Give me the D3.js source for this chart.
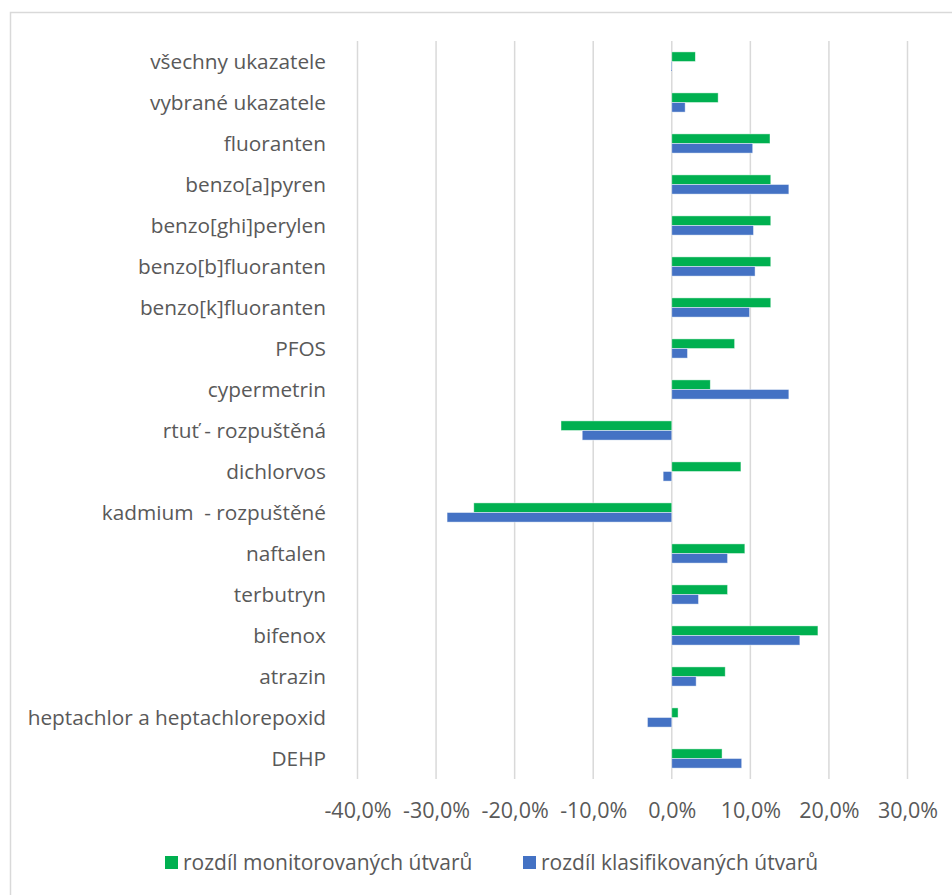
<!DOCTYPE html>
<html>
<head>
<meta charset="utf-8">
<script src="https://cdn.jsdelivr.net/npm/d3@7"></script>
<style>
  body { margin: 0; background: #fff; }
  svg text { font-family: "Open Sans", sans-serif; fill: #595959; white-space: pre; }
</style>
</head>
<body>
<div id="chart"></div>
<script>
// values in percent
var categories = [
  "všechny ukazatele", "vybrané ukazatele", "fluoranten", "benzo[a]pyren",
  "benzo[ghi]perylen", "benzo[b]fluoranten", "benzo[k]fluoranten", "PFOS",
  "cypermetrin", "rtuť - rozpuštěná", "dichlorvos", "kadmium  - rozpuštěné",
  "naftalen", "terbutryn", "bifenox", "atrazin",
  "heptachlor a heptachlorepoxid", "DEHP"
];
var monitorovane = [3.0, 5.9, 12.5, 12.6, 12.6, 12.6, 12.6, 8.0, 4.9, -14.1, 8.8, -25.2, 9.3, 7.1, 18.6, 6.8, 0.8, 6.4];
var klasifikovane = [-0.1, 1.7, 10.3, 14.9, 10.4, 10.6, 9.9, 2.0, 14.9, -11.4, -1.1, -28.6, 7.1, 3.4, 16.3, 3.1, -3.1, 8.9];
var seriesNames = ["rozdíl monitorovaných útvarů", "rozdíl klasifikovaných útvarů"];
var xTicks = [-40, -30, -20, -10, 0, 10, 20, 30];

var colors = ["#00b050", "#4472c4"];
var W = 952, H = 895;

var svg = d3.select("#chart").append("svg").attr("width", W).attr("height", H);

// chart frame (right and bottom edges fall outside the picture)
svg.append("rect")
  .attr("x", 10.5).attr("y", 12.5)
  .attr("width", 960).attr("height", 900)
  .attr("fill", "#fff").attr("stroke", "#d9d9d9").attr("stroke-width", 1.5);

var x = d3.scaleLinear().domain([-40, 30]).range([357.5, 907.5]);
var y = d3.scaleBand().domain(categories).range([41, 779]);
var barH = 9.6;

var loc = d3.formatLocale({decimal: ",", thousands: " ", grouping: [3], currency: ["", ""], minus: "-"});
var fmt = loc.format(".1f");

// gridlines
svg.append("g").selectAll("line").data(xTicks).join("line")
  .attr("x1", function (d) { return x(d); })
  .attr("x2", function (d) { return x(d); })
  .attr("y1", 41).attr("y2", 779)
  .attr("stroke", "#d9d9d9").attr("stroke-width", 1.5);

// bars
var series = [monitorovane, klasifikovane];
series.forEach(function (vals, s) {
  svg.append("g").selectAll("rect").data(vals).join("rect")
    .attr("x", function (d) { return Math.min(x(0), x(d)); })
    .attr("y", function (d, i) { return y(categories[i]) + y.bandwidth() / 2 - barH + s * barH; })
    .attr("width", function (d) { return Math.abs(x(d) - x(0)); })
    .attr("height", barH)
    .attr("fill", colors[s])
    .attr("stroke", "#fff").attr("stroke-opacity", 0.6).attr("stroke-width", 0.75);
});

// category labels
svg.append("g").selectAll("text").data(categories).join("text")
  .attr("x", 326)
  .attr("y", function (d) { return y(d) + y.bandwidth() / 2; })
  .attr("dy", "0.35em")
  .attr("text-anchor", "end")
  .attr("font-size", 20.8)
  .text(function (d) { return d; });

// x axis labels
var xAxis = d3.axisBottom(x).tickValues(xTicks).tickSize(0).tickPadding(0)
  .tickFormat(function (d) { return fmt(d) + "%"; });
var gx = svg.append("g").attr("transform", "translate(0,810)").call(xAxis);
gx.select(".domain").remove();
gx.selectAll("text")
  .attr("dy", "0.35em").attr("y", 0)
  .style("font-family", "'Open Sans', sans-serif")
  .attr("font-size", 21.5).attr("fill", "#595959");

// legend
var legX = [165, 523];
var leg = svg.append("g").selectAll("g").data(seriesNames).join("g")
  .attr("transform", function (d, i) { return "translate(" + legX[i] + ",856)"; });
leg.append("rect").attr("width", 13).attr("height", 13)
  .attr("fill", function (d, i) { return colors[i]; });
leg.append("text").attr("x", 18).attr("y", 6.5).attr("dy", "0.35em")
  .attr("font-size", 21)
  .text(function (d) { return d; });
</script>
</body>
</html>
